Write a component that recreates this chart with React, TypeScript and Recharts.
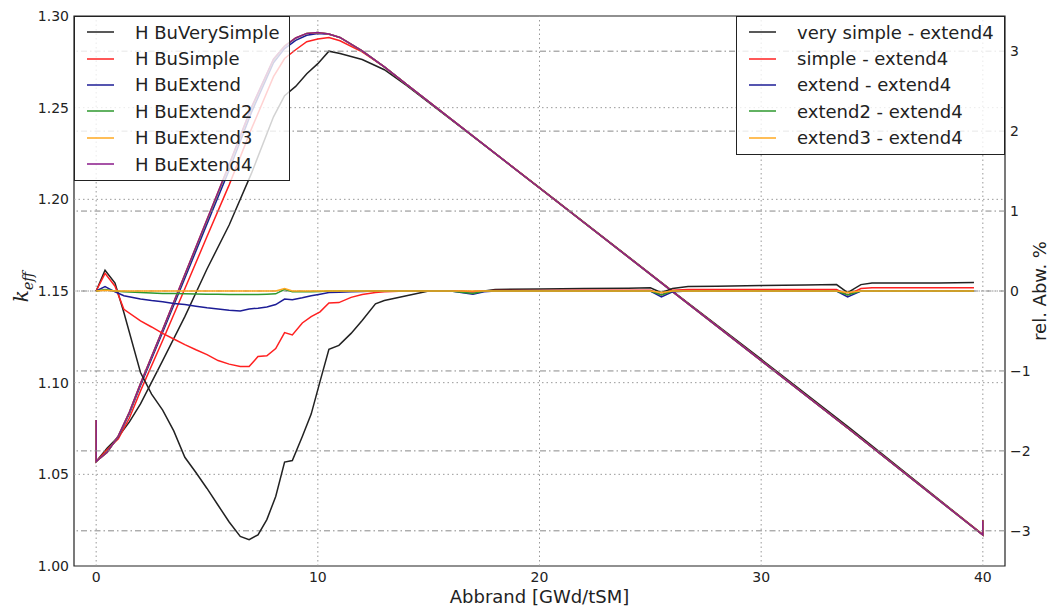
import React from "react";
import { LineChart, Line, XAxis, YAxis, ReferenceLine, ReferenceArea } from "recharts";

// k_eff curves (left axis)
const BURNUP_K = [0, 0, 0.5, 1, 1.5, 2, 3, 4, 5, 6, 7, 8, 8.5, 9, 9.5, 10, 10.5, 11, 12, 13, 14, 20, 26, 30, 34, 40, 40];
const K_VERYSIMPLE = [1.0796, 1.057, 1.0643, 1.0705, 1.0786, 1.0884, 1.112, 1.136, 1.162, 1.186, 1.214, 1.245, 1.2565, 1.2616, 1.2685, 1.274, 1.2808, 1.2795, 1.2763, 1.2707, 1.2622, 1.2064, 1.15, 1.1128, 1.0752, 1.0171, 1.0249];
const K_SIMPLE = [1.0796, 1.057, 1.0636, 1.0694, 1.0807, 1.0955, 1.123, 1.1512, 1.1797, 1.2079, 1.2383, 1.2669, 1.2768, 1.2816, 1.286, 1.2875, 1.2883, 1.2865, 1.2804, 1.2722, 1.2627, 1.2063, 1.1498, 1.1122, 1.0744, 1.0171, 1.0249];
const K_EXTEND = [1.0796, 1.057, 1.0623, 1.0705, 1.0832, 1.0985, 1.1275, 1.157, 1.1865, 1.216, 1.2473, 1.2745, 1.2822, 1.2867, 1.2895, 1.2905, 1.29, 1.2882, 1.281, 1.2722, 1.2627, 1.2062, 1.1497, 1.112, 1.0743, 1.0169, 1.0247];
const K_EXTEND2 = [1.0796, 1.057, 1.0621, 1.0709, 1.0838, 1.0994, 1.1287, 1.1586, 1.1885, 1.2185, 1.2495, 1.276, 1.2836, 1.2879, 1.2905, 1.291, 1.2902, 1.2883, 1.281, 1.2722, 1.2627, 1.2062, 1.1497, 1.112, 1.0743, 1.0169, 1.0247];
const K_EXTEND3 = [1.0796, 1.057, 1.062, 1.071, 1.084, 1.0996, 1.129, 1.159, 1.189, 1.219, 1.25, 1.2765, 1.2838, 1.288, 1.2905, 1.291, 1.2902, 1.2883, 1.281, 1.2722, 1.2627, 1.2062, 1.1497, 1.112, 1.0743, 1.0169, 1.0247];
const K_EXTEND4 = [1.0796, 1.057, 1.062, 1.071, 1.084, 1.0996, 1.129, 1.159, 1.189, 1.219, 1.25, 1.2765, 1.2835, 1.288, 1.2905, 1.291, 1.2902, 1.2883, 1.281, 1.2722, 1.2627, 1.2062, 1.1497, 1.112, 1.0743, 1.0169, 1.0247];

// relative deviation to extend4 in % (right axis)
const BURNUP_DEV = [0, 0.4, 0.85, 1.25, 2, 2.5, 3, 3.5, 4, 4.5, 5, 5.5, 6, 6.5, 6.9, 7.3, 7.7, 8.1, 8.5, 8.85, 9.3, 9.7, 10.1, 10.5, 10.95, 11.5, 12, 12.6, 13, 14, 15, 16, 17, 17.5, 18, 20, 22, 24, 25, 25.5, 26, 26.7, 28, 30, 32, 33.4, 33.9, 34.5, 35, 36, 38, 39.6];
const DEV_VERYSIMPLE = [0, 0.26, 0.1, -0.27, -1.02, -1.29, -1.49, -1.75, -2.08, -2.27, -2.47, -2.68, -2.89, -3.07, -3.11, -3.05, -2.86, -2.57, -2.14, -2.12, -1.82, -1.54, -1.13, -0.73, -0.68, -0.53, -0.37, -0.16, -0.12, -0.06, 0, 0, -0.01, 0, 0.02, 0.025, 0.03, 0.035, 0.04, -0.02, 0.03, 0.055, 0.06, 0.07, 0.075, 0.08, -0.02, 0.08, 0.1, 0.1, 0.1, 0.105];
const DEV_SIMPLE = [0, 0.22, 0.06, -0.23, -0.375, -0.45, -0.53, -0.6, -0.67, -0.735, -0.795, -0.87, -0.915, -0.945, -0.945, -0.82, -0.81, -0.72, -0.52, -0.55, -0.4, -0.32, -0.26, -0.15, -0.145, -0.08, -0.045, -0.02, -0.01, 0, 0, 0, -0.01, 0, 0.005, 0.005, 0.01, 0.01, 0.01, -0.05, 0.01, 0.02, 0.02, 0.02, 0.02, 0.02, -0.05, 0.03, 0.04, 0.04, 0.04, 0.04];
const DEV_EXTEND = [0, 0.055, -0.01, -0.06, -0.1, -0.12, -0.135, -0.155, -0.17, -0.19, -0.21, -0.225, -0.24, -0.25, -0.225, -0.215, -0.2, -0.17, -0.1, -0.11, -0.085, -0.06, -0.04, -0.02, -0.015, -0.01, -0.005, 0, 0, 0, 0, 0, -0.04, -0.01, 0, 0, 0, 0, 0, -0.075, -0.01, 0, 0, 0, 0, 0, -0.075, 0, 0, 0, 0, 0];
const DEV_EXTEND2 = [0, 0.02, 0, -0.01, -0.02, -0.025, -0.03, -0.032, -0.035, -0.037, -0.04, -0.042, -0.045, -0.045, -0.045, -0.043, -0.04, -0.035, 0.02, -0.01, -0.01, -0.008, -0.005, 0, 0, 0, 0, 0, 0, 0, 0, 0, -0.03, 0, 0, 0, 0, 0, 0, -0.05, 0, 0, 0, 0, 0, 0, -0.05, 0, 0, 0, 0, 0];
const DEV_EXTEND3 = [0, 0.01, 0, 0, 0, 0, 0, 0, 0, 0, 0, 0, 0, 0, 0, 0, 0, 0, 0.03, 0, 0, 0, 0, 0, 0, 0, 0, 0, 0, 0, 0, 0, 0, 0, 0, 0, 0, 0, 0, -0.02, 0, 0, 0, 0, 0, 0, -0.02, 0, 0, 0, 0, 0];

const X_TICKS = [0, 10, 20, 30, 40];
const K_TICKS = [1.0, 1.05, 1.1, 1.15, 1.2, 1.25, 1.3];
const DEV_TICKS = [-3, -2, -1, 0, 1, 2, 3];

const K_SERIES = [
  { name: "H BuVerySimple", color: "#222222", values: K_VERYSIMPLE },
  { name: "H BuSimple", color: "#ff2020", values: K_SIMPLE },
  { name: "H BuExtend", color: "#1c1c96", values: K_EXTEND },
  { name: "H BuExtend2", color: "#2e982e", values: K_EXTEND2 },
  { name: "H BuExtend3", color: "#ffa820", values: K_EXTEND3 },
  { name: "H BuExtend4", color: "#8a1a8a", values: K_EXTEND4 },
];

const DEV_SERIES = [
  { name: "very simple - extend4", color: "#222222", values: DEV_VERYSIMPLE },
  { name: "simple - extend4", color: "#ff2020", values: DEV_SIMPLE },
  { name: "extend - extend4", color: "#1c1c96", values: DEV_EXTEND },
  { name: "extend2 - extend4", color: "#2e982e", values: DEV_EXTEND2 },
  { name: "extend3 - extend4", color: "#ffa820", values: DEV_EXTEND3 },
];

const FONT = "DejaVu Sans";
const rows = (xs: number[], ys: number[]) => xs.map((x, i) => ({ x, y: ys[i] }));
const minus = (v: number) => (v < 0 ? "\u2212" + Math.abs(v) : String(v));

function LegendBox({ items, style }: { items: { name: string; color: string }[]; style: React.CSSProperties }) {
  return (
    <div style={{
      position: "absolute", boxSizing: "border-box", border: "1px solid #222",
      background: "rgba(255,255,255,0.8)", fontFamily: FONT, fontSize: 18, color: "#222",
      paddingTop: 2, ...style,
    }}>
      {items.map((s) => (
        <div key={s.name} style={{ display: "flex", alignItems: "center", height: 26.4, whiteSpace: "nowrap" }}>
          <svg width={27} height={6} style={{ marginLeft: 12, overflow: "visible" }}>
            <line x1={0} x2={27} y1={3} y2={3} stroke={s.color} strokeWidth={1.5} />
          </svg>
          <span style={{ marginLeft: 21 }}>{s.name}</span>
        </div>
      ))}
    </div>
  );
}

export default function App() {
  return (
    <div style={{ position: "absolute", left: 0, top: 0, width: 1051, height: 609, background: "#fff" }}>
      <LineChart width={1051} height={609} margin={{ top: 16, right: 0, bottom: 0, left: 0 }}>
        <XAxis
          type="number" dataKey="x" domain={[-1, 41]} ticks={X_TICKS} allowDataOverflow
          tickLine={false} axisLine={false} height={43} tickSize={4} tickMargin={2}
          tick={{ fill: "#222", fontSize: 14, fontFamily: FONT }}
          label={{
            content: ({ viewBox }: any) => (
              <text x={viewBox.x + viewBox.width / 2} y={viewBox.y + viewBox.height - 6}
                textAnchor="middle" fill="#222" fontSize={18} fontFamily={FONT}>
                Abbrand [GWd/tSM]
              </text>
            ),
          }}
        />
        <YAxis
          yAxisId="left" type="number" domain={[1.0, 1.3]} ticks={K_TICKS} allowDataOverflow
          width={74} tickLine={false} axisLine={false} tickSize={3} tickMargin={2}
          tickFormatter={(v: number) => v.toFixed(2)}
          tick={{ fill: "#222", fontSize: 14, fontFamily: FONT }}
          label={{
            content: ({ viewBox }: any) => (
              <text transform={`translate(28, ${viewBox.y + viewBox.height / 2 - 4}) rotate(-90)`}
                textAnchor="middle" fill="#222" fontSize={20} fontFamily="DejaVu Serif" fontStyle="italic">
                k<tspan fontSize={14} dy={5}>eff</tspan>
              </text>
            ),
          }}
        />
        <YAxis
          yAxisId="right" orientation="right" type="number" domain={[-3.44, 3.44]} ticks={DEV_TICKS}
          allowDataOverflow width={46} tickLine={false} axisLine={false} tickSize={3} tickMargin={2}
          tickFormatter={minus}
          tick={{ fill: "#222", fontSize: 14, fontFamily: FONT }}
          label={{
            content: ({ viewBox }: any) => (
              <text transform={`translate(1046, ${viewBox.y + viewBox.height / 2}) rotate(-90)`}
                textAnchor="middle" fill="#222" fontSize={18} fontFamily={FONT}>
                rel. Abw. %
              </text>
            ),
          }}
        />

        {X_TICKS.map((t) => (
          <ReferenceLine key={"gx" + t} x={t} yAxisId="left" stroke="#999" strokeDasharray="1.5 3" />
        ))}
        {K_TICKS.slice(1, -1).map((t) => (
          <ReferenceLine key={"gk" + t} y={t} yAxisId="left" stroke="#999" strokeDasharray="1.5 3" />
        ))}

        {K_SERIES.map((s) => (
          <Line key={s.name} yAxisId="left" data={rows(BURNUP_K, s.values)} dataKey="y" name={s.name}
            type="linear" stroke={s.color} strokeWidth={1.5} dot={false} isAnimationActive={false} />
        ))}

        {DEV_TICKS.map((t) => (
          <ReferenceLine key={"gd" + t} y={t} yAxisId="right" stroke="#888" strokeDasharray="6 3 1.5 3" />
        ))}

        {DEV_SERIES.map((s) => (
          <Line key={s.name} yAxisId="right" data={rows(BURNUP_DEV, s.values)} dataKey="y" name={s.name}
            type="linear" stroke={s.color} strokeWidth={1.5} dot={false} isAnimationActive={false} />
        ))}

        <ReferenceArea yAxisId="left" x1={-1} x2={41} y1={1.0} y2={1.3} fill="none" stroke="#222" strokeWidth={1.2} />
      </LineChart>

      <LegendBox items={K_SERIES} style={{ left: 74, top: 16, width: 216, height: 165 }} />
      <LegendBox items={DEV_SERIES} style={{ left: 736, top: 16, width: 269, height: 139 }} />
    </div>
  );
}
